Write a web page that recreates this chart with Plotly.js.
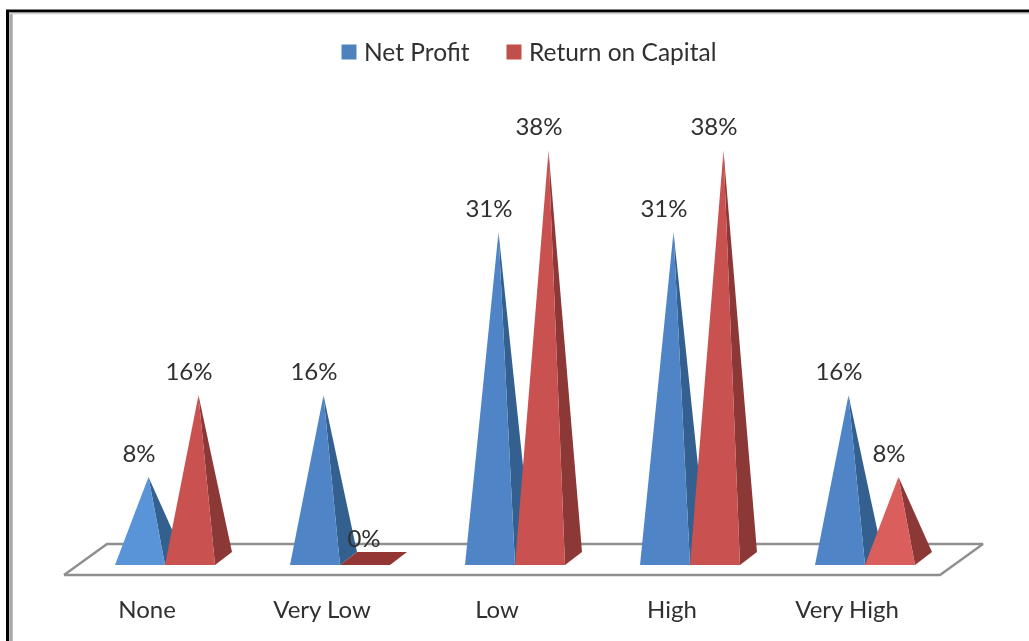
<!DOCTYPE html>
<html>
<head>
<meta charset="utf-8">
<script src="https://cdn.plot.ly/plotly-3.0.1.min.js"></script>
<style>html,body{margin:0;padding:0;background:#fff;overflow:hidden}#chart{filter:blur(0.45px)}</style>
</head>
<body>
<div id="chart" style="width:1029px;height:641px"></div>
<script>
var categories = ["None", "Very Low", "Low", "High", "Very High"];
var seriesNames = ["Net Profit", "Return on Capital"];
var netProfit = [7.7, 15.4, 30.8, 30.8, 15.4];
var returnOnCapital = [15.4, 0, 38.5, 38.5, 7.7];
var netProfitLabels = ["8%", "16%", "31%", "31%", "16%"];
var returnOnCapitalLabels = ["16%", "0%", "38%", "38%", "8%"];
var netProfitFront = ["#5a94d8", "#4f85c6", "#4f85c6", "#4f85c6", "#4f85c6"];
var returnFront = ["#c9514f", "#c9514f", "#c9514f", "#c9514f", "#da5e5b"];
var sideColors = ["#33608f", "#8c3836"];
var legendColors = ["#4f81bd", "#c0504d"];
var legendIds = ["legend", "legend2"];
var legendLefts = [324, 489];

var PLOT_BOTTOM = 593;
var PX_X = 175, PX_Y = 10.6;
var barW = 50 / PX_X, depthX = 17 / PX_X, depthY = 13 / PX_Y;
var firstOffset = -32 / PX_X;
var labelLift = 9 / PX_Y, zeroLabelDrop = 3.5 / PX_Y;
var textFont = {family: "Lato, 'Open Sans', sans-serif", size: 24, color: "#303030"};
var legendFont = {family: "Lato, 'Open Sans', sans-serif", size: 24.5, color: "#303030"};

var traces = [];

// platform floor
traces.push({
  x: [-83 / PX_X, 793 / PX_X, 836 / PX_X, -40 / PX_X, -83 / PX_X],
  y: [-10 / PX_Y, -10 / PX_Y, 21 / PX_Y, 21 / PX_Y, -10 / PX_Y],
  mode: "lines", fill: "toself", fillcolor: "#ffffff",
  line: {color: "#8f8f8f", width: 2.4}, hoverinfo: "skip", showlegend: false
});

function pyramid(i, s, v, frontColor) {
  var x0 = i + firstOffset + s * barW;
  var x1 = x0 + barW;
  var apexX = x0 + barW / 2 + depthX / 2;
  var apexY = v + depthY / 2;
  if (v === 0) {
    traces.push({
      x: [x0, x1, x1 + depthX, x0 + depthX, x0], y: [0, 0, depthY, depthY, 0],
      mode: "lines", fill: "toself", fillcolor: "#943634", line: {width: 0},
      hoverinfo: "skip", showlegend: false
    });
    return;
  }
  traces.push({
    x: [x1, x1 + depthX, apexX, x1], y: [0, depthY, apexY, 0],
    mode: "lines", fill: "toself", fillcolor: sideColors[s], line: {width: 0},
    hoverinfo: "skip", showlegend: false
  });
  traces.push({
    x: [x0, x1, apexX, x0], y: [0, 0, apexY, 0],
    mode: "lines", fill: "toself", fillcolor: frontColor, line: {width: 0},
    hoverinfo: "skip", showlegend: false
  });
}

categories.forEach(function (c, i) {
  pyramid(i, 0, netProfit[i], netProfitFront[i]);
  pyramid(i, 1, returnOnCapital[i], returnFront[i]);
});

// data labels
[[netProfit, netProfitLabels, 0], [returnOnCapital, returnOnCapitalLabels, 1]].forEach(function (d) {
  traces.push({
    x: categories.map(function (c, i) { return i + firstOffset + (d[2] + 0.5) * barW - 1 / PX_X; }),
    y: d[0].map(function (v) { return v + depthY / 2 + labelLift - (v === 0 ? zeroLabelDrop : 0); }),
    text: d[1], mode: "text", textposition: "top center",
    textfont: textFont, hoverinfo: "skip", showlegend: false, cliponaxis: false
  });
});

// legend entries
seriesNames.forEach(function (n, s) {
  traces.push({
    x: [null], y: [null], name: n, mode: "markers", legend: legendIds[s], showlegend: true,
    marker: {symbol: "square", size: 15, color: legendColors[s]}
  });
});

function legendAt(left) {
  return {
    orientation: "h", x: left / 1029, xanchor: "left", y: 1 - 52 / PLOT_BOTTOM, yanchor: "middle",
    font: legendFont, bgcolor: "rgba(0,0,0,0)", itemclick: false, itemdoubleclick: false
  };
}

var layout = {
  width: 1029, height: 641,
  margin: {l: 0, r: 0, t: 0, b: 641 - PLOT_BOTTOM, pad: 0},
  paper_bgcolor: "#ffffff", plot_bgcolor: "#ffffff",
  hovermode: false,
  xaxis: {
    range: [-147 / PX_X, (1029 - 147) / PX_X],
    tickmode: "array", tickvals: categories.map(function (c, i) { return i; }),
    ticktext: categories, ticks: "", showgrid: false, zeroline: false, showline: false,
    tickfont: textFont, automargin: false
  },
  yaxis: {
    range: [(565 - PLOT_BOTTOM) / PX_Y, 565 / PX_Y],
    showgrid: false, zeroline: false, showline: false, showticklabels: false, ticks: ""
  },
  legend: legendAt(legendLefts[0]),
  legend2: legendAt(legendLefts[1]),
  shapes: [
    {type: "line", xref: "paper", yref: "paper", x0: 7.5 / 1029, x1: 7.5 / 1029, y0: 1 - 11 / PLOT_BOTTOM, y1: -0.1, line: {color: "#000", width: 3}},
    {type: "line", xref: "paper", yref: "paper", x0: 6 / 1029, x1: 1, y0: 1 - 11 / PLOT_BOTTOM, y1: 1 - 11 / PLOT_BOTTOM, line: {color: "#000", width: 3}},
    {type: "line", xref: "paper", yref: "paper", x0: 11 / 1029, x1: 11 / 1029, y0: 1 - 13 / PLOT_BOTTOM, y1: -0.1, line: {color: "#a8a8a8", width: 3.5}},
    {type: "line", xref: "paper", yref: "paper", x0: 9 / 1029, x1: 1, y0: 1 - 13.5 / PLOT_BOTTOM, y1: 1 - 13.5 / PLOT_BOTTOM, line: {color: "#cfcfcf", width: 1.5}}
  ]
};

Plotly.newPlot("chart", traces, layout, {displayModeBar: false}).then(function () {
  document.querySelectorAll(".legendpoints").forEach(function (g) {
    g.setAttribute("transform", "translate(5,0)");
  });
});
</script>
</body>
</html>
